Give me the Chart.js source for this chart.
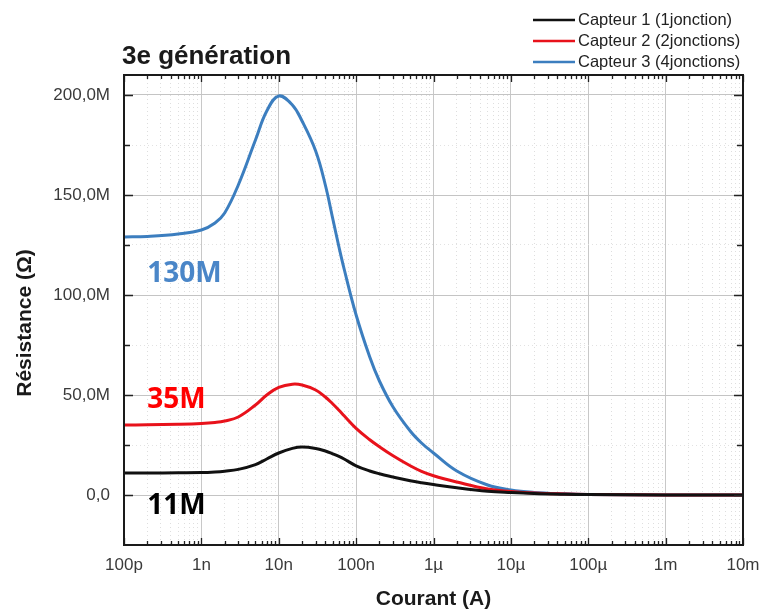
<!DOCTYPE html>
<html>
<head>
<meta charset="utf-8">
<script src="https://cdn.jsdelivr.net/npm/chart.js@4/dist/chart.umd.min.js"></script>
<style>
  html, body { margin: 0; padding: 0; background: #fff; }
</style>
</head>
<body>
<canvas id="chart" width="763" height="612"></canvas>
<script>
// Courant (A) sample points
const currents = [1e-10, 2e-10, 5e-10, 1e-9, 1.5e-9, 2e-9, 3e-9, 5e-9, 7e-9, 1e-8, 1.5e-8, 2e-8, 3e-8, 4e-8,
  5e-8, 6e-8, 7e-8, 1e-7, 1.5e-7, 2e-7, 3e-7, 5e-7, 7e-7, 1e-6, 2e-6, 5e-6, 1e-5, 2e-5, 5e-5, 1e-4, 1e-3, 1e-2];

// Résistance in MΩ
const capteur1 = [11, 11, 11.1, 11.2, 11.5, 11.9, 12.8, 15.2, 18, 21, 23.3, 24, 23.3, 22,
  20.6, 19.3, 18, 14.6, 12, 10.6, 9, 7.1, 6.1, 5.2, 3.6, 1.9, 1.2, 0.7, 0.35, 0.2, 0.05, 0];
const capteur2 = [35, 35.1, 35.4, 35.8, 36.3, 37, 39, 45, 50, 53.8, 55.4, 55, 52.5, 49,
  45.5, 42.4, 39.6, 33.3, 27.6, 24.1, 19.6, 14.6, 11.8, 9.6, 6.5, 3, 1.8, 1, 0.5, 0.3, 0.05, 0];
const capteur3 = [129, 129.3, 130.5, 132.5, 136, 141, 155, 177.5, 192, 199.5, 195, 187, 172, 155,
  138, 124, 113, 90, 69, 57, 44, 32, 26, 21, 12, 5, 2.5, 1.3, 0.6, 0.3, 0.05, 0];

const seriesLabels = ['Capteur 1 (1jonction)', 'Capteur 2 (2jonctions)', 'Capteur 3 (4jonctions)'];
const seriesColors = ['#111111', '#e8121b', '#3c7ebf'];

// axes
const decadeValues = [1e-10, 1e-9, 1e-8, 1e-7, 1e-6, 1e-5, 1e-4, 1e-3, 1e-2];
const decadeLabels = ['100p', '1n', '10n', '100n', '1µ', '10µ', '100µ', '1m', '10m'];
const yTickValues = [0, 50, 100, 150, 200];
const yTickLabels = ['0,0', '50,0M', '100,0M', '150,0M', '200,0M'];

// start values written next to the curves
const noteTexts = ['130M', '35M', '11M'];
const noteColors = ['#4a86c8', '#ff0000', '#000000'];
const noteX = [2e-10, 2e-10, 2e-10];
const noteY = [106.5, 43.5, -9.5];

const FONT = '"Liberation Sans", Arial, sans-serif';

const overlay = {
  id: 'overlay',
  afterDraw(chart) {
    const { ctx, chartArea: a, scales: { x, y } } = chart;
    ctx.save();

    // inward tick marks on all four sides
    ctx.strokeStyle = '#222';
    ctx.lineWidth = 1.3;
    ctx.beginPath();
    for (const t of x.ticks) {
      const px = Math.round(x.getPixelForValue(t.value)) + 0.5;
      const len = t.major ? 7 : 4;
      ctx.moveTo(px, a.bottom); ctx.lineTo(px, a.bottom - len);
      ctx.moveTo(px, a.top); ctx.lineTo(px, a.top + len);
    }
    for (const t of y.ticks) {
      if (t.value <= y.min || t.value >= y.max) continue;
      const py = Math.round(y.getPixelForValue(t.value)) + 0.5;
      const len = t.major ? 9 : 6;
      ctx.moveTo(a.left, py); ctx.lineTo(a.left + len, py);
      ctx.moveTo(a.right, py); ctx.lineTo(a.right - len, py);
    }
    ctx.stroke();

    // frame
    ctx.lineWidth = 2;
    ctx.strokeStyle = '#1a1a1a';
    ctx.strokeRect(a.left, a.top, a.right - a.left, a.bottom - a.top);

    // title
    ctx.fillStyle = '#1a1a1a';
    ctx.font = 'bold 26px ' + FONT;
    ctx.textBaseline = 'alphabetic';
    ctx.textAlign = 'left';
    ctx.fillText('3e génération', 122, 64);

    // y axis title
    ctx.save();
    ctx.translate(25, 323);
    ctx.rotate(-Math.PI / 2);
    ctx.font = 'bold 21px ' + FONT;
    ctx.textAlign = 'center';
    ctx.textBaseline = 'middle';
    ctx.fillText('Résistance (Ω)', 0, 0);
    ctx.restore();

    // legend
    ctx.font = '16.5px ' + FONT;
    ctx.textBaseline = 'middle';
    ctx.textAlign = 'left';
    chart.data.datasets.forEach((ds, i) => {
      const ly = 20 + i * 21;
      ctx.strokeStyle = ds.borderColor;
      ctx.lineWidth = 2.5;
      ctx.beginPath();
      ctx.moveTo(533, ly); ctx.lineTo(575, ly);
      ctx.stroke();
      ctx.fillStyle = '#222';
      ctx.fillText(ds.label, 578, ly);
    });

    // notes
    ctx.font = 'bold 28px "Open Sans", sans-serif';
    ctx.textBaseline = 'alphabetic';
    noteTexts.forEach((txt, i) => {
      ctx.fillStyle = noteColors[i];
      ctx.fillText(txt, x.getPixelForValue(noteX[i]), y.getPixelForValue(noteY[i]));
    });

    ctx.restore();
  }
};

const datasets = [capteur1, capteur2, capteur3].map((vals, i) => ({
  label: seriesLabels[i],
  data: currents.map((c, j) => ({ x: c, y: vals[j] })),
  borderColor: seriesColors[i],
  backgroundColor: seriesColors[i],
  borderWidth: 3,
  pointRadius: 0,
  tension: 0.4,
  fill: false
}));

new Chart(document.getElementById('chart'), {
  type: 'line',
  data: { datasets },
  options: {
    responsive: false,
    animation: false,
    layout: { padding: { top: 75, right: 20, left: 0, bottom: 0 } },
    plugins: { legend: { display: false }, title: { display: false }, tooltip: { enabled: false } },
    scales: {
      x: {
        type: 'logarithmic',
        min: decadeValues[0],
        max: decadeValues[decadeValues.length - 1],
        afterBuildTicks: (scale) => {
          const ticks = [];
          decadeValues.forEach((d, i) => {
            const last = i === decadeValues.length - 1;
            for (let m = 1; m <= (last ? 1 : 9); m++) ticks.push({ value: m * d, major: m === 1 });
          });
          scale.ticks = ticks;
        },
        afterFit: (scale) => {
          scale.height = 67;
          scale.paddingLeft = 0;
          scale.paddingRight = 0;
        },
        border: {
          display: false,
          dash: (ctx) => (ctx.tick && !ctx.tick.major ? [1, 3] : [])
        },
        grid: {
          drawTicks: false,
          color: (ctx) => (ctx.tick && ctx.tick.major ? '#c8c8c8' : '#dedede'),
          lineWidth: 1
        },
        ticks: {
          autoSkip: false,
          maxRotation: 0,
          padding: 10,
          color: '#3a3a3a',
          font: { family: FONT, size: 17 },
          callback: (value, i, ticks) => {
            if (!ticks[i].major) return '';
            const k = Math.round(Math.log10(value)) + 10;
            return decadeLabels[k];
          }
        },
        title: {
          display: true,
          text: 'Courant (A)',
          color: '#1a1a1a',
          font: { family: FONT, size: 21, weight: 'bold' },
          padding: { top: 0, bottom: 0 }
        }
      },
      y: {
        min: -25,
        max: 210,
        afterBuildTicks: (scale) => {
          const ticks = [];
          for (let v = -25; v <= 200; v += 25) ticks.push({ value: v, major: yTickValues.includes(v) });
          scale.ticks = ticks;
        },
        afterFit: (scale) => {
          scale.width = 124;
          scale.paddingTop = 0;
          scale.paddingBottom = 0;
        },
        border: {
          display: false,
          dash: (ctx) => (ctx.tick && !ctx.tick.major ? [1, 3] : [])
        },
        grid: {
          drawTicks: false,
          color: (ctx) => (ctx.tick && ctx.tick.major ? '#c4c4c4' : '#e2e2e2'),
          lineWidth: 1
        },
        ticks: {
          autoSkip: false,
          padding: 14,
          color: '#3a3a3a',
          font: { family: FONT, size: 17 },
          callback: (value) => {
            const k = yTickValues.indexOf(value);
            return k >= 0 ? yTickLabels[k] : '';
          }
        }
      }
    }
  },
  plugins: [overlay]
});
</script>
</body>
</html>
